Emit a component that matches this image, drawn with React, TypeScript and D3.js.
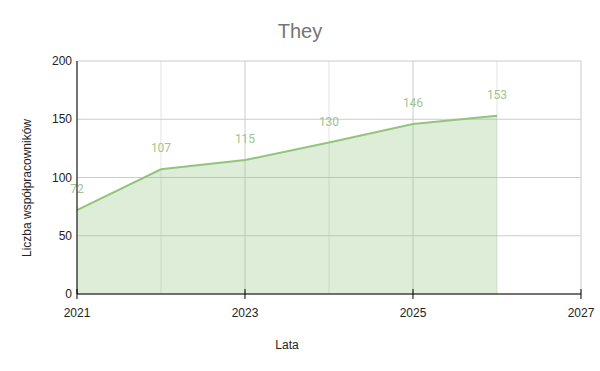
import React from "react";
import * as d3 from "d3";

const years = [2021, 2022, 2023, 2024, 2025, 2026];
const values = [72, 107, 115, 130, 146, 153];
const yTicks = [0, 50, 100, 150, 200];
const xMajorTicks = [2021, 2023, 2025, 2027];
const xMinorTicks = [2022, 2024, 2026];
const title = "They";
const xTitle = "Lata";
const yTitle = "Liczba współpracowników";

export default function App() {
  const W = 600, H = 371;
  const x = d3.scaleLinear().domain([2021, 2027]).range([77, 581]);
  const y = d3.scaleLinear().domain([0, 200]).range([294, 61]);
  const pts = years.map((yr, i) => ({ yr, v: values[i] }));
  const line = d3.line<any>().x(d => x(d.yr)).y(d => y(d.v));
  const area = d3.area<any>().x(d => x(d.yr)).y0(y(0)).y1(d => y(d.v));
  const font = "Liberation Sans, Arial, sans-serif";
  return (
    <svg width={W} height={H} style={{ position: "absolute", left: 0, top: 0, background: "#fff" }}>
      <rect width={W} height={H} fill="#fff" />
      <text x={300} y={38} textAnchor="middle" fontFamily={font} fontSize={20} fill="#757575">{title}</text>
      {xMinorTicks.map(t => (
        <line key={"mn" + t} x1={x(t)} x2={x(t)} y1={y(200)} y2={y(0)} stroke="#e3e3e3" />
      ))}
      {xMajorTicks.map(t => (
        <line key={"mj" + t} x1={x(t)} x2={x(t)} y1={y(200)} y2={y(0)} stroke="#cccccc" />
      ))}
      {yTicks.map(t => (
        <line key={"h" + t} x1={x(2021)} x2={x(2027)} y1={y(t)} y2={y(t)} stroke="#cccccc" />
      ))}
      <path d={area(pts) || ""} fill="#93c47d" fillOpacity={0.3} />
      <path d={line(pts) || ""} fill="none" stroke="#93c47d" strokeWidth={2} />
      {pts.map(p => (
        <text key={"l" + p.yr} x={x(p.yr)} y={y(p.v) - 17} textAnchor="middle" fontFamily="Roboto, sans-serif" fontSize={12} fill="#9fc48f">{p.v}</text>
      ))}
      <line x1={x(2021)} x2={x(2021)} y1={y(200)} y2={y(0)} stroke="#000" />
      <line x1={x(2021)} x2={x(2027)} y1={y(0)} y2={y(0)} stroke="#000" />
      {xMajorTicks.map(t => (
        <g key={"xt" + t}>
          <line x1={x(t)} x2={x(t)} y1={y(0) - 5} y2={y(0) + 5} stroke="#000" />
          <text x={x(t)} y={317} textAnchor="middle" fontFamily={font} fontSize={12} fill="#222">{t}</text>
        </g>
      ))}
      {yTicks.map(t => (
        <text key={"yt" + t} x={72} y={y(t) + 4} textAnchor="end" fontFamily={font} fontSize={12} fill="#222">{t}</text>
      ))}
      <text x={287} y={349} textAnchor="middle" fontFamily={font} fontSize={12} fill="#222">{xTitle}</text>
      <text transform={`translate(31,${188}) rotate(-90)`} textAnchor="middle" fontFamily={font} fontSize={12} fill="#222">{yTitle}</text>
    </svg>
  );
}
